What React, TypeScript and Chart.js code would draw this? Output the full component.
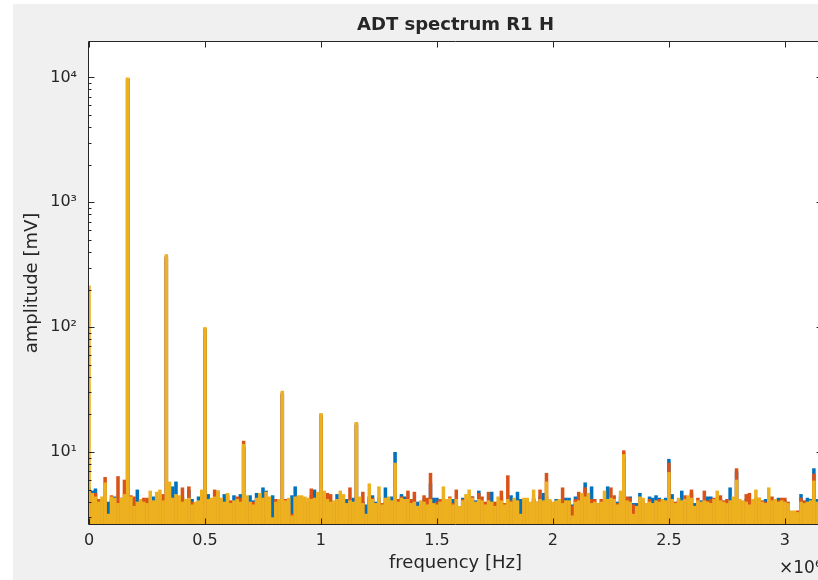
import { useEffect, useRef } from 'react';
import { Chart, registerables } from 'chart.js';

Chart.register(...registerables);

// Frequency bins: 72 bins per 1e6 Hz (x axis shown in units of 10^6 Hz)
const BINS_PER_MHZ = 72;

const yellowAmp = [
  215, 4.7, 4.4, 4.0, 4.4, 5.7, 3.2, 4.4, 4.3, 3.9,
  4.3, 4.6, 10000, 4.4, 3.7, 4.0, 4.2, 4.0, 3.9, 4.9,
  4.1, 4.8, 5.0, 4.1, 384, 5.8, 4.3, 4.6, 4.5, 4.0,
  4.2, 4.3, 3.8, 4.0, 4.1, 5.0, 100, 4.2, 4.3, 4.4,
  4.9, 4.3, 4.0, 4.7, 3.9, 4.1, 4.2, 4.0, 11.6, 4.5,
  4.0, 3.8, 4.3, 4.7, 4.3, 4.8, 4.4, 3.0, 4.0, 4.2,
  31, 4.1, 4.3, 3.1, 4.4, 4.5, 4.5, 4.4, 4.3, 4.2,
  4.3, 4.8, 20.5, 4.9, 4.2, 4.0, 4.1, 4.2, 4.9, 4.6,
  3.9, 4.1, 4.0, 17.4, 4.4, 3.9, 3.2, 5.6, 4.2, 3.9,
  5.3, 3.8, 4.3, 4.4, 4.1, 8.2, 4.0, 4.3, 4.2, 4.2,
  3.9, 4.0, 3.7, 4.1, 4.0, 3.8, 4.2, 3.9, 3.8, 4.0,
  5.3, 4.2, 4.3, 3.8, 4.2, 3.7, 4.1, 4.6, 5.0, 4.3,
  4.0, 4.2, 4.1, 3.8, 4.1, 4.0, 3.7, 4.4, 4.1, 3.8,
  4.2, 4.0, 4.3, 4.1, 3.2, 4.3, 4.3, 4.0, 5.0, 4.0,
  4.2, 4.1, 5.8, 4.2, 4.0, 4.1, 4.2, 3.9, 4.1, 4.1,
  3.1, 4.0, 4.1, 4.7, 4.4, 4.7, 3.9, 4.0, 3.9, 4.0,
  4.9, 4.2, 4.3, 4.2, 3.8, 4.9, 9.6, 4.1, 4.0, 3.2,
  3.7, 4.4, 4.3, 3.9, 4.0, 3.9, 4.1, 4.0, 4.2, 4.1,
  6.9, 4.2, 3.9, 4.3, 4.1, 4.2, 4.5, 4.3, 3.7, 4.1,
  4.0, 4.1, 4.0, 3.9, 4.2, 4.9, 4.1, 4.0, 3.9, 4.1,
  4.4, 6.0, 4.2, 4.1, 4.0, 3.8, 4.2, 5.0, 4.3, 4.0,
  3.9, 5.2, 4.1, 4.2, 4.0, 4.1, 4.0, 3.9, 3.4, 3.4,
  3.3, 4.0, 3.9, 4.0, 4.1, 5.9, 4.0,
];

const orangeAmp = [
  5.0, 4.5, 4.7, 4.2, 3.9, 6.3, 3.0, 4.5, 4.0, 6.4,
  3.8, 6.0, 9800, 4.5, 4.4, 3.8, 4.0, 4.3, 4.3, 4.3,
  3.8, 4.0, 3.7, 4.6, 370, 4.4, 4.3, 4.2, 3.9, 5.2,
  3.9, 5.3, 4.0, 3.9, 4.0, 3.8, 98, 4.0, 4.0, 5.0,
  4.9, 3.8, 3.9, 3.8, 4.1, 4.0, 4.4, 4.3, 12.3, 3.9,
  3.8, 4.0, 4.0, 3.8, 4.2, 4.8, 3.9, 2.9, 4.2, 3.9,
  30, 4.2, 3.8, 3.2, 4.0, 4.1, 4.0, 3.8, 4.1, 5.1,
  3.9, 4.0, 20, 4.2, 4.7, 4.6, 2.9, 4.0, 4.1, 3.9,
  3.8, 5.2, 3.9, 17, 4.0, 4.8, 3.0, 4.3, 4.3, 3.0,
  4.1, 3.9, 4.0, 4.1, 4.0, 8.0, 4.2, 4.4, 4.0, 4.9,
  4.2, 4.8, 3.7, 3.8, 4.5, 4.3, 6.8, 3.7, 4.0, 4.2,
  4.1, 3.9, 4.4, 3.9, 5.0, 3.0, 4.2, 3.9, 4.1, 4.4,
  3.9, 4.7, 4.4, 4.0, 4.8, 3.9, 4.0, 4.0, 4.9, 3.9,
  6.5, 4.1, 3.9, 3.9, 3.0, 4.0, 4.2, 3.9, 4.3, 3.9,
  5.0, 4.0, 6.8, 4.0, 3.9, 4.0, 3.9, 5.2, 4.0, 4.0,
  3.7, 4.2, 4.8, 4.0, 5.2, 4.2, 4.2, 4.2, 3.1, 4.2,
  4.1, 4.0, 5.2, 4.5, 3.9, 4.1, 10.3, 4.4, 4.3, 3.8,
  3.1, 4.1, 4.0, 3.9, 4.2, 3.2, 4.0, 4.2, 4.0, 4.0,
  8.2, 4.0, 4.0, 4.0, 3.9, 4.5, 4.1, 5.0, 3.7, 4.3,
  3.9, 4.9, 4.1, 4.2, 4.3, 4.1, 4.5, 4.1, 4.2, 4.0,
  4.1, 7.4, 4.0, 3.9, 4.6, 4.7, 4.0, 4.3, 4.3, 4.1,
  4.0, 4.4, 4.4, 3.9, 4.1, 4.3, 4.3, 4.0, 3.3, 3.3,
  3.4, 4.3, 4.1, 3.9, 4.0, 6.7, 3.9,
];

const blueAmp = [
  5.2, 4.9, 5.1, 3.9, 4.1, 4.4, 4.0, 4.2, 4.4, 4.1,
  4.3, 4.0, 9700, 4.2, 3.9, 5.0, 3.9, 4.1, 4.0, 3.0,
  4.4, 4.1, 4.2, 3.9, 360, 4.2, 5.3, 5.8, 4.1, 4.4,
  3.8, 5.0, 4.2, 3.7, 4.4, 4.0, 96, 4.6, 4.2, 4.1,
  4.0, 4.2, 4.6, 4.5, 3.8, 4.5, 4.0, 4.6, 11.0, 4.0,
  4.5, 4.1, 4.7, 4.3, 5.2, 4.9, 4.2, 4.5, 4.1, 4.0,
  29, 4.2, 4.2, 4.5, 5.3, 3.9, 4.2, 4.0, 3.9, 4.5,
  5.0, 4.6, 19.5, 4.5, 4.0, 4.1, 3.9, 4.6, 4.3, 4.0,
  4.2, 4.0, 4.3, 16.5, 4.1, 4.0, 3.8, 4.4, 4.5, 4.0,
  4.3, 3.7, 5.2, 4.2, 4.4, 10.0, 3.9, 4.6, 4.4, 4.1,
  3.8, 3.9, 4.0, 3.9, 4.2, 4.0, 5.6, 4.3, 4.3, 3.9,
  4.0, 4.1, 4.0, 4.2, 4.0, 3.1, 4.3, 4.0, 4.2, 4.4,
  4.1, 4.9, 4.0, 3.9, 4.0, 4.8, 3.8, 3.9, 4.4, 3.7,
  4.1, 4.5, 4.0, 4.8, 4.2, 4.1, 4.0, 3.8, 4.2, 4.0,
  4.4, 4.7, 4.4, 4.1, 3.8, 4.2, 4.0, 4.0, 4.3, 4.3,
  3.8, 4.4, 4.0, 4.1, 5.7, 4.3, 5.3, 3.9, 3.9, 3.9,
  4.0, 5.3, 4.1, 3.9, 4.0, 4.4, 9.0, 4.0, 4.4, 3.9,
  3.9, 4.7, 4.1, 3.8, 4.4, 4.3, 4.5, 4.3, 4.1, 4.3,
  8.8, 4.6, 3.8, 4.1, 4.9, 4.0, 4.2, 4.7, 3.9, 4.0,
  4.1, 4.0, 4.4, 4.4, 4.2, 4.0, 4.2, 3.9, 4.0, 5.2,
  4.2, 7.0, 4.1, 4.0, 4.2, 4.1, 3.9, 4.2, 4.0, 3.8,
  4.2, 4.1, 4.0, 4.0, 4.3, 4.0, 4.1, 3.8, 3.3, 3.2,
  3.0, 4.6, 4.0, 4.3, 4.2, 7.4, 4.2,
];

const freqMHz = yellowAmp.map((_, i) => i / BINS_PER_MHZ);

const xTickValues = [0, 0.5, 1, 1.5, 2, 2.5, 3];
const xTickLabels = ['0', '0.5', '1', '1.5', '2', '2.5', '3'];
const yTickValues = [10, 100, 1000, 10000];
const yTickLabels = ['10\u00B9', '10\u00B2', '10\u00B3', '10\u2074'];

const X_MIN = 0;
const X_MAX = 3.16;
const Y_MIN = 2.65;
const Y_MAX = 19200;

const TITLE = 'ADT spectrum R1 H';
const X_TITLE = 'frequency [Hz]';
const Y_TITLE = 'amplitude [mV]';
const X_EXPONENT = '\u00D710\u2076';

const TEXT = '#262626';
const FONT = '"DejaVu Sans", sans-serif';

const toPoints = (vals: number[]) => vals.map((v, i) => ({ x: freqMHz[i], y: v }));

const matlabPlugin = {
  id: 'matlabAxes',
  beforeDraw(chart: any) {
    const { ctx, width, height, chartArea: ca } = chart;
    ctx.save();
    ctx.fillStyle = '#ffffff';
    ctx.fillRect(0, 0, width, height);
    ctx.fillStyle = '#f0f0f0';
    ctx.fillRect(13, 4, width - 13, height - 4);
    ctx.fillStyle = '#ffffff';
    ctx.fillRect(ca.left, ca.top, ca.right - ca.left, ca.bottom - ca.top);
    ctx.restore();
  },
  afterDraw(chart: any) {
    const { ctx, chartArea: ca, scales } = chart;
    const x = scales.x;
    const y = scales.y;
    ctx.save();
    ctx.strokeStyle = TEXT;
    ctx.lineWidth = 1;
    const L = ca.left - 0.5;
    const R = ca.right + 0.5;
    const T = ca.top - 0.5;
    const B = ca.bottom + 0.5;
    ctx.beginPath();
    ctx.moveTo(L, T);
    ctx.lineTo(R, T);
    ctx.lineTo(R, B);
    ctx.lineTo(L, B);
    ctx.closePath();
    ctx.stroke();

    ctx.beginPath();
    const MAJ = 6;
    const MIN = 3;
    for (const v of xTickValues) {
      const px = Math.round(x.getPixelForValue(v)) + 0.5;
      ctx.moveTo(px, B);
      ctx.lineTo(px, B - MAJ);
      ctx.moveTo(px, T);
      ctx.lineTo(px, T + MAJ);
    }
    for (let e = 0; e <= 4; e++) {
      for (let m = 1; m <= 9; m++) {
        const v = m * Math.pow(10, e);
        if (v < Y_MIN || v > Y_MAX) continue;
        const py = Math.round(y.getPixelForValue(v)) + 0.5;
        const len = m === 1 ? MAJ : MIN;
        ctx.moveTo(L, py);
        ctx.lineTo(L + len, py);
        ctx.moveTo(R, py);
        ctx.lineTo(R - len, py);
      }
    }
    ctx.stroke();

    ctx.fillStyle = TEXT;
    ctx.textAlign = 'center';
    ctx.textBaseline = 'middle';
    ctx.font = `bold 18px ${FONT}`;
    ctx.fillText(TITLE, (ca.left + ca.right) / 2, 25);

    ctx.font = `18px ${FONT}`;
    ctx.fillText(X_TITLE, (ca.left + ca.right) / 2, 563);

    ctx.save();
    ctx.translate(32, (ca.top + ca.bottom) / 2);
    ctx.rotate(-Math.PI / 2);
    ctx.textAlign = 'center';
    ctx.fillText(Y_TITLE, 0, 0);
    ctx.restore();

    ctx.font = `17px ${FONT}`;
    ctx.textAlign = 'left';
    ctx.fillText(X_EXPONENT, 779, 569);

    ctx.restore();
  },
};

export default function App() {
  const ref = useRef<HTMLCanvasElement>(null);

  useEffect(() => {
    const canvas = ref.current;
    if (!canvas) return;
    const barCommon = {
      grouped: false,
      barPercentage: 1.1,
      categoryPercentage: 1,
      borderWidth: 0,
    };
    const chart = new Chart(canvas, {
      type: 'bar',
      data: {
        datasets: [
          { label: 'series 3', data: toPoints(yellowAmp), backgroundColor: '#EDB120', order: 0, ...barCommon },
          { label: 'series 2', data: toPoints(orangeAmp), backgroundColor: '#D95319', order: 1, ...barCommon },
          { label: 'series 1', data: toPoints(blueAmp), backgroundColor: '#0072BD', order: 2, ...barCommon },
        ],
      },
      options: {
        animation: false,
        responsive: false,
        devicePixelRatio: 1,
        layout: { padding: { left: 0, top: 42, right: 8, bottom: 0 } },
        plugins: {
          legend: { display: false },
          tooltip: { enabled: false },
          title: { display: false },
        },
        scales: {
          x: {
            type: 'linear',
            min: X_MIN,
            max: X_MAX,
            offset: false,
            grid: { display: false, drawTicks: false },
            border: { display: false },
            afterBuildTicks: (scale: any) => {
              scale.ticks = xTickValues.map((v) => ({ value: v }));
            },
            afterFit: (scale: any) => {
              scale.height = 56;
            },
            ticks: {
              autoSkip: false,
              maxRotation: 0,
              padding: 7,
              color: TEXT,
              font: { family: FONT, size: 16 },
              callback: (v: any) => {
                const idx = xTickValues.indexOf(Number(v));
                return idx >= 0 ? xTickLabels[idx] : '';
              },
            },
          },
          y: {
            type: 'logarithmic',
            min: Y_MIN,
            max: Y_MAX,
            grid: { display: false, drawTicks: false },
            border: { display: false },
            afterBuildTicks: (scale: any) => {
              scale.ticks = yTickValues.map((v) => ({ value: v }));
            },
            afterFit: (scale: any) => {
              scale.width = 89;
            },
            ticks: {
              autoSkip: false,
              padding: 12,
              color: TEXT,
              font: { family: FONT, size: 16 },
              callback: (v: any) => {
                const idx = yTickValues.indexOf(Number(v));
                return idx >= 0 ? yTickLabels[idx] : '';
              },
            },
          },
        },
      },
      plugins: [matlabPlugin],
    } as any);
    return () => chart.destroy();
  }, []);

  return (
    <div
      style={{
        position: 'fixed',
        left: 0,
        top: 0,
        width: 818,
        height: 580,
        overflow: 'hidden',
        background: '#fff',
      }}
    >
      <canvas ref={ref} width={830} height={580} style={{ display: 'block', width: 830, height: 580 }} />
    </div>
  );
}
